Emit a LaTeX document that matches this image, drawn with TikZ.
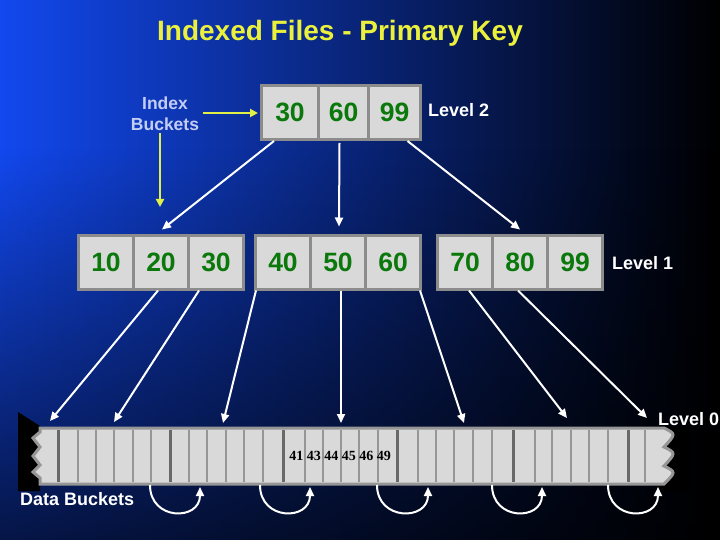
\documentclass[tikz,border=0pt]{standalone}
\usepackage{fontspec}
\setmainfont{Liberation Sans}
\newfontfamily\datafont{Liberation Serif}
\usetikzlibrary{arrows.meta,calc,positioning,fadings}

\definecolor{bgblue}{RGB}{18,72,238}
\definecolor{bgmid}{RGB}{14,58,205}
\definecolor{titleyellow}{RGB}{235,240,60}
\definecolor{hiyellow}{RGB}{225,240,70}
\definecolor{ibtext}{RGB}{195,205,245}
\definecolor{keyfill}{RGB}{217,217,217}
\definecolor{keyline}{RGB}{140,140,140}
\definecolor{keygreen}{RGB}{10,120,10}
\definecolor{thickdiv}{RGB}{105,105,105}
\definecolor{thindiv}{RGB}{150,150,150}

\begin{document}
\begin{tikzpicture}[x=1pt,y=-1pt,
keybox/.style={rectangle, draw=keyline, fill=keyfill, line width=3pt,
  minimum width=55pt, minimum height=54pt, inner sep=0pt, text=keygreen,
  font=\bfseries\fontsize{26.5}{28}\selectfont},
lbl/.style={inner sep=0pt, anchor=west, text=white,
  font=\bfseries\fontsize{18}{20}\selectfont},
ptr/.style={draw=white, line width=2pt, -{Triangle[length=9pt,width=8pt]}},
yptr/.style={draw=hiyellow, line width=2.5pt, -{Triangle[length=8pt,width=8pt]}}]
\useasboundingbox (0,0) rectangle (720,540);
\shade[left color=bgblue, middle color=bgmid, right color=black] (0,0) rectangle (720,540);
\fill[black, fill opacity=0.7, path fading=north] (0,150) rectangle (720,540);

\node[text=titleyellow, font=\bfseries\fontsize{28}{30}\selectfont] (title) at (340,33) {Indexed Files - Primary Key};
\node[align=center, inner sep=2pt, text=ibtext, font=\bfseries\fontsize{17.5}{21}\selectfont] (ib) at (165,114) {Index\\Buckets};

% level 2
\node[keybox, minimum width=57pt] (t30) at (290,112.5) {30};
\node[keybox, minimum width=50pt] (t60) at (343.5,112.5) {60};
\node[keybox, minimum width=52pt] (t99) at (394.5,112.5) {99};
\node[lbl] (lv2) at (428,110) {Level 2};

% level 1
\node[keybox] (l10) at (106,262) {10};
\node[keybox] (l20) at (161,262) {20};
\node[keybox] (l30) at (216,262) {30};
\node[keybox] (l40) at (283,262) {40};
\node[keybox] (l50) at (338,262) {50};
\node[keybox] (l60) at (393,262) {60};
\node[keybox] (l70) at (465,262) {70};
\node[keybox] (l80) at (520,262) {80};
\node[keybox] (l99) at (575,262) {99};
\node[lbl] (lv1) at (612,263) {Level 1};

\coordinate (ibend) at (160,207);
\draw[yptr, shorten >=2pt] ($(ib.east)+(2,-1)$) -- ($(ib.east -| t30.west)+(0,-1)$);
\draw[yptr] ($(ib.south)+(-5,0)$) -- (ibend);

\draw[ptr] ($(t30.south)+(-16,0)$) -- ($(l20.north)+(1,-4)$);
\draw[ptr] ($(t60.south)+(-4,2)$) -- ($(l50.north)+(1,-7)$);
\draw[ptr] ($(t99.south)+(13,0)$) -- ($(l80.north)+(0,-4)$);

% level 0, data buckets
\fill[black] (18,412) -- (40,426) -- (40,491) -- (18,491) -- cycle;
\fill[black] (660,427) rectangle (690,492);
\draw[draw=thindiv, fill=keyfill, line width=3pt] (40,428) -- (664,428)
  .. controls (676,434) .. (664,447) .. controls (676,453) .. (664,466)
  .. controls (676,472) .. (664,484) -- (40,484) -- (40,478) -- (33,472)
  -- (40,465) -- (33,456) -- (40,447) -- (33,438) -- (40,432) -- cycle;
\foreach \x in {78,96,114,133,151,189,207,226,244,263,305,323,341,359,378,
  418,436,454,473,492,535,552,571,589,608,645}
  \draw[thindiv, line width=2pt] (\x,430) -- (\x,482);
\foreach \x in {58,170,283,397,513,628}
  \draw[thickdiv, line width=3pt] (\x,430) -- (\x,482);
\node[font=\datafont\bfseries\fontsize{14}{16}\selectfont] (dat) at (340,456) {41 43 44 45 46 49};
\node[lbl] (lv0) at (658,419) {Level 0};
\node[lbl] (db) at (20,499) {Data Buckets};

\coordinate (d1) at (50,421);
\coordinate (d2) at (114,422);
\coordinate (d3) at (223,423);
\coordinate (d4) at (341,423);
\coordinate (d5) at (464,423);
\coordinate (d6) at (567,418);
\coordinate (d7) at (647,418);
\draw[ptr] ($(l20.south)+(-3,0)$) -- (d1);
\draw[ptr] ($(l30.south)+(-17,0)$) -- (d2);
\draw[ptr] ($(l40.south west)+(2,0)$) -- (d3);
\draw[ptr] ($(l50.south)+(3,0)$) -- (d4);
\draw[ptr] ($(l60.south east)+(-2,0)$) -- (d5);
\draw[ptr] ($(l70.south)+(4,0)$) -- (d6);
\draw[ptr] ($(l80.south)+(-2,0)$) -- (d7);

% overflow chains
\coordinate (o1a) at (150,485); \coordinate (o1b) at (200,487);
\coordinate (o2a) at (260,485); \coordinate (o2b) at (310,487);
\coordinate (o3a) at (377,485); \coordinate (o3b) at (428,487);
\coordinate (o4a) at (492,485); \coordinate (o4b) at (542,487);
\coordinate (o5a) at (608,485); \coordinate (o5b) at (658,487);
\draw[ptr] (o1a) .. controls +(0,36) and +(0,34) .. (o1b);
\draw[ptr] (o2a) .. controls +(0,36) and +(0,34) .. (o2b);
\draw[ptr] (o3a) .. controls +(0,36) and +(0,34) .. (o3b);
\draw[ptr] (o4a) .. controls +(0,36) and +(0,34) .. (o4b);
\draw[ptr] (o5a) .. controls +(0,36) and +(0,34) .. (o5b);
\end{tikzpicture}
\end{document}
